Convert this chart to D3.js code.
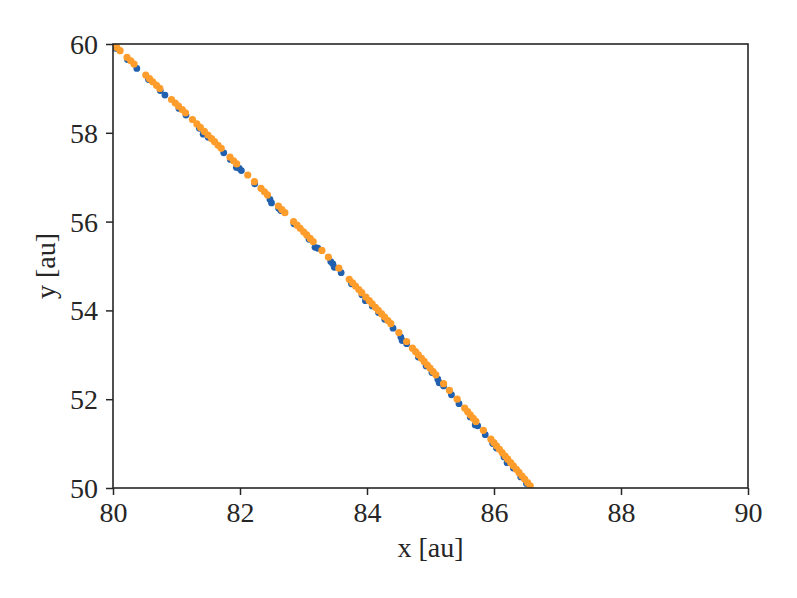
<!DOCTYPE html>
<html><head><meta charset="utf-8">
<script src="https://cdn.jsdelivr.net/npm/d3@7"></script>
<style>body{margin:0;background:#fff}svg{display:block}</style>
</head><body>
<svg id="c" width="797" height="598"></svg>
<script>
const xTicks = [80, 82, 84, 86, 88, 90];
const yTicks = [50, 52, 54, 56, 58, 60];
const blueX = [80.044,80.228,80.375,80.560,80.744,80.818,81.039,81.149,81.360,81.500,81.744,81.848,81.988,82.022,82.232,82.472,82.609,82.643,82.849,83.088,83.225,83.429,83.462,83.593,83.756,83.920,84.083,84.181,84.279,84.410,84.533,84.625,84.808,84.931,85.023,85.115,85.207,85.330,85.449,85.626,85.744,85.862,85.980,86.039,86.157,86.304,86.422,86.511,
  81.420,81.943,82.496,83.181,83.485,83.975,84.553,85.136,85.704,86.206];
const blueY = [59.9,59.65,59.45,59.2,58.95,58.85,58.55,58.4,58.1,57.9,57.55,57.4,57.2,57.15,56.85,56.5,56.3,56.25,55.95,55.6,55.4,55.1,55.05,54.85,54.6,54.35,54.1,53.95,53.8,53.6,53.4,53.25,52.95,52.75,52.6,52.45,52.3,52.1,51.9,51.6,51.4,51.2,51.0,50.9,50.7,50.45,50.25,50.1,
  57.97,57.22,56.42,55.42,54.97,54.22,53.32,52.37,51.42,50.57];
const orangeX = [80.000,80.111,80.221,80.332,80.516,80.626,80.737,80.921,81.032,81.142,81.251,81.321,81.495,81.599,81.704,81.843,81.948,82.122,82.227,82.331,82.433,82.605,82.707,82.844,82.947,83.050,83.153,83.290,83.392,83.557,83.721,83.819,83.917,83.982,84.081,84.179,84.277,84.375,84.501,84.624,84.716,84.808,84.900,84.992,85.084,85.206,85.298,85.420,85.538,85.626,85.715,85.833,85.951,86.039,86.128,86.216,86.305,86.393,86.482,86.570,
  80.059,80.280,80.575,80.685,80.980,81.091,81.376,81.439,81.551,81.655,81.899,82.385,82.659,82.899,83.002,83.105,83.773,83.871,84.035,84.133,84.231,84.329,84.765,84.857,84.949,85.041,85.585,85.673,85.998,86.086,86.175,86.263,86.352,86.440,86.529];
const orangeY = [60.0,59.85,59.7,59.55,59.3,59.15,59.0,58.75,58.6,58.45,58.3,58.2,57.95,57.8,57.65,57.45,57.3,57.05,56.9,56.75,56.6,56.35,56.2,56.0,55.85,55.7,55.55,55.35,55.2,54.95,54.7,54.55,54.4,54.3,54.15,54.0,53.85,53.7,53.5,53.3,53.15,53.0,52.85,52.7,52.55,52.35,52.2,52.0,51.8,51.65,51.5,51.3,51.1,50.95,50.8,50.65,50.5,50.35,50.2,50.05,
  59.92,59.62,59.22,59.07,58.67,58.52,58.12,58.03,57.87,57.72,57.37,56.67,56.27,55.92,55.77,55.62,54.62,54.47,54.22,54.07,53.92,53.77,53.07,52.92,52.77,52.62,51.72,51.57,51.02,50.87,50.72,50.57,50.42,50.27,50.12];

const svg = d3.select("#c");
const L = 113, R = 748, T = 44, B = 488;
const x = d3.scaleLinear().domain([80, 90]).range([L, R]);
const y = d3.scaleLinear().domain([50, 60]).range([B, T]);
const font = "'Liberation Serif', 'Times New Roman', serif";

svg.append("defs").append("clipPath").attr("id","pc")
  .append("rect").attr("x", L).attr("y", T).attr("width", R-L).attr("height", B-T);
const g = svg.append("g").attr("clip-path","url(#pc)");
const blue = blueX.map((v,i)=>[v, blueY[i]]);
const orange = orangeX.map((v,i)=>[v, orangeY[i]]);
g.selectAll("circle.b").data(blue).join("circle").attr("class","b")
  .attr("cx", d=>x(d[0])).attr("cy", d=>y(d[1])).attr("r", 3.4).attr("fill", "#2160ae");
g.selectAll("circle.o").data(orange).join("circle").attr("class","o")
  .attr("cx", d=>x(d[0])).attr("cy", d=>y(d[1])).attr("r", 3.6).attr("fill", "#ff9d2c");

const xa = svg.append("g").attr("transform", `translate(0,${B})`)
  .call(d3.axisBottom(x).tickValues(xTicks).tickSize(7).tickPadding(6).tickFormat(d3.format("d")));
const ya = svg.append("g").attr("transform", `translate(${L},0)`)
  .call(d3.axisLeft(y).tickValues(yTicks).tickSize(7).tickPadding(8).tickFormat(d3.format("d")));
[xa, ya].forEach(a => {
  a.select(".domain").remove();
  a.selectAll("line").attr("stroke", "#262626").attr("stroke-width", 1.5);
  a.selectAll("text").attr("font-family", font).attr("font-size", 28).attr("fill", "#262626");
});
xa.selectAll("text").attr("dy", "0.75em");
ya.selectAll("text").attr("dy", "0.34em");

svg.append("rect").attr("x", L).attr("y", T).attr("width", R-L).attr("height", B-T)
  .attr("fill", "none").attr("stroke", "#262626").attr("stroke-width", 1.6);

svg.append("text").attr("x", (L+R)/2).attr("y", 557).attr("text-anchor","middle")
  .attr("font-family", font).attr("font-size", 28).attr("fill", "#262626").text("x [au]");
svg.append("text").attr("transform", `translate(55,${(T+B)/2}) rotate(-90)`).attr("text-anchor","middle")
  .attr("font-family", font).attr("font-size", 28).attr("fill", "#262626").text("y [au]");
</script>
</body></html>
